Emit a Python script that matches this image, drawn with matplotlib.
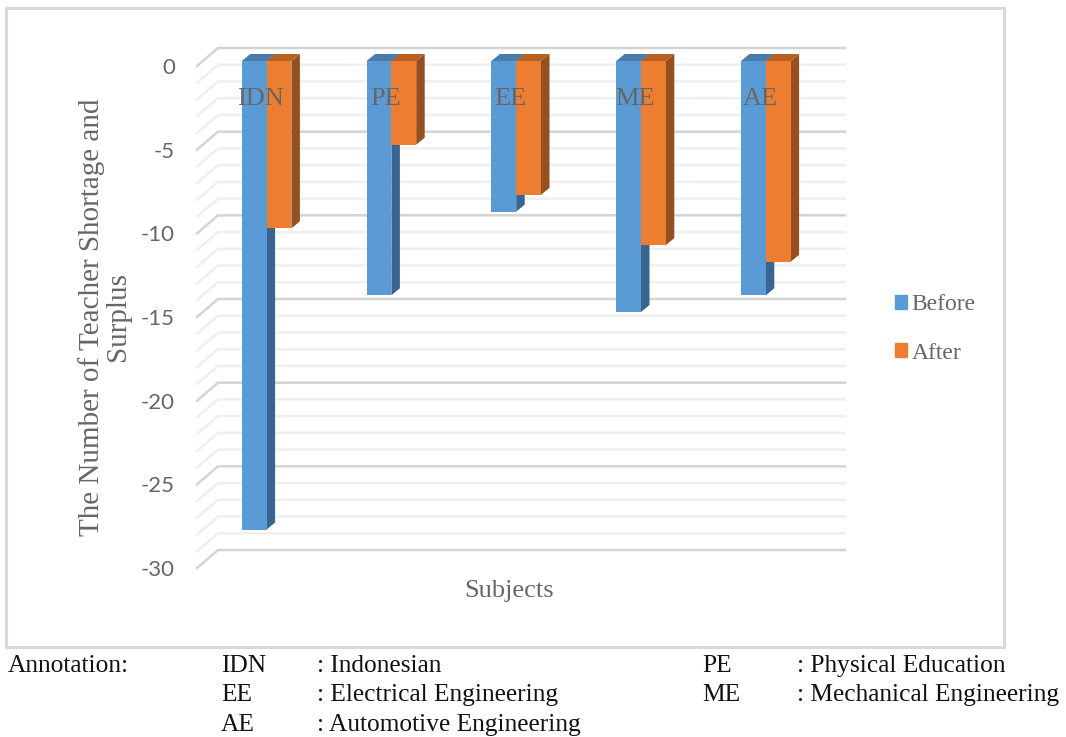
import matplotlib
matplotlib.use("Agg")
import matplotlib.pyplot as plt
from matplotlib.patches import Rectangle, Patch

subjects = ["IDN", "PE", "EE", "ME", "AE"]
before = [-28, -14, -9, -15, -14]
after = [-10, -5, -8, -11, -12]
y_ticks = [0, -5, -10, -15, -20, -25, -30]

W, H = 1066, 737
BLUE, BLUE_SIDE, BLUE_TOP = "#5b9bd5", "#37658f", "#4a7cab"
ORANGE, ORANGE_SIDE, ORANGE_TOP = "#ed7d31", "#964f1e", "#b8601f"
SERIF = "Liberation Serif"
GREY = "#666666"

plt.rcParams["axes.unicode_minus"] = False
fig = plt.figure(figsize=(W / 100, H / 100), dpi=100)


def fx(px):
    return px / W


def fy(py):
    return 1 - py / H


# outer chart frame
fig.add_artist(Rectangle((fx(6), fy(647)), fx(998), fy(8) - fy(647), transform=fig.transFigure,
                         fill=False, edgecolor="#d9d9d9", linewidth=2.2))

# axes = front edge of the floor, 0 at y=66 and -30 at y=568
ax = fig.add_axes([fx(197), fy(568), fx(627), fy(66) - fy(568)])
px_per_cat = 124.8
px_per_unit = (568 - 66) / 30
ax.set_xlim((197 - 266.6) / px_per_cat, (824 - 266.6) / px_per_cat)
ax.set_ylim(-30, 0)
for s in ax.spines.values():
    s.set_visible(False)
ax.set_xticks([])
ax.set_yticks(y_ticks)
ax.tick_params(axis="y", length=0, pad=16, labelsize=16, labelcolor=GREY)
for lab in ax.get_yticklabels():
    lab.set_fontfamily("Lato")

# grid on the back wall and the left wall
back_dx = 21 / px_per_cat
back_dy = 18 / px_per_unit
x0, x1 = ax.get_xlim()
for v in range(-30, 1):
    major = v % 5 == 0
    color = "#d4d4d4" if major else "#efefef"
    ax.plot([x0, x0 + back_dx, x1 + back_dx], [v, v + back_dy, v + back_dy], color=color,
            linewidth=1.8, clip_on=False, zorder=1, solid_joinstyle="miter")

# 3D bars, front face sits a bit behind the floor edge
bar_w = 24.8 / px_per_cat
dx = 8.5 / px_per_cat
dy = 7 / px_per_unit
plane = 5 / px_per_unit


def draw_bar(left, value, front, side, top, z):
    ax.fill([left + bar_w, left + bar_w + dx, left + bar_w + dx, left + bar_w],
            [plane, plane + dy, plane + value + dy, plane + value],
            color=side, linewidth=0, clip_on=False, zorder=z)
    ax.fill([left, left + dx, left + bar_w + dx, left + bar_w],
            [plane, plane + dy, plane + dy, plane],
            color=top, linewidth=0, clip_on=False, zorder=z)
    ax.bar(left, value, width=bar_w, bottom=plane, align="edge", color=front, linewidth=0,
           clip_on=False, zorder=z + 0.1)


for i in range(len(subjects)):
    draw_bar(i - bar_w, before[i], BLUE, BLUE_SIDE, BLUE_TOP, 2)
    draw_bar(i, after[i], ORANGE, ORANGE_SIDE, ORANGE_TOP, 3)
    ax.text(i - 6 / px_per_cat, plane - 38 / px_per_unit, subjects[i], family=SERIF, fontsize=19,
            color=GREY, ha="center", va="center", zorder=5, clip_on=False)

# axis titles
fig.text(fx(105), fy(317), "The Number of Teacher Shortage and\nSurplus", family=SERIF, fontsize=21,
         color=GREY, rotation=90, ha="center", va="center", multialignment="center", linespacing=1.0)
fig.text(fx(509), fy(591), "Subjects", family=SERIF, fontsize=19, color=GREY, ha="center", va="center")

# legend
handles = [Patch(color=BLUE, label="Before"), Patch(color=ORANGE, label="After")]
fig.legend(handles=handles, loc="center left", bbox_to_anchor=(fx(874), fy(329)), frameon=False,
           prop={"family": SERIF, "size": 17}, labelcolor=GREY, handlelength=0.5, handleheight=0.5,
           handletextpad=0.2, labelspacing=1.15)

# annotation block under the chart
notes = [
    (8, 666, "Annotation:"),
    (221, 666, "IDN"), (317, 666, ": Indonesian"),
    (702, 666, "PE"), (797, 666, ": Physical Education"),
    (221, 695, "EE"), (317, 695, ": Electrical Engineering"),
    (702, 695, "ME"), (797, 695, ": Mechanical Engineering"),
    (221, 725, "AE"), (317, 725, ": Automotive Engineering"),
]
for x, y, txt in notes:
    fig.text(fx(x), fy(y), txt, family=SERIF, fontsize=18.3, color="#111111", ha="left", va="center")

fig.savefig("out.png", dpi=100)
